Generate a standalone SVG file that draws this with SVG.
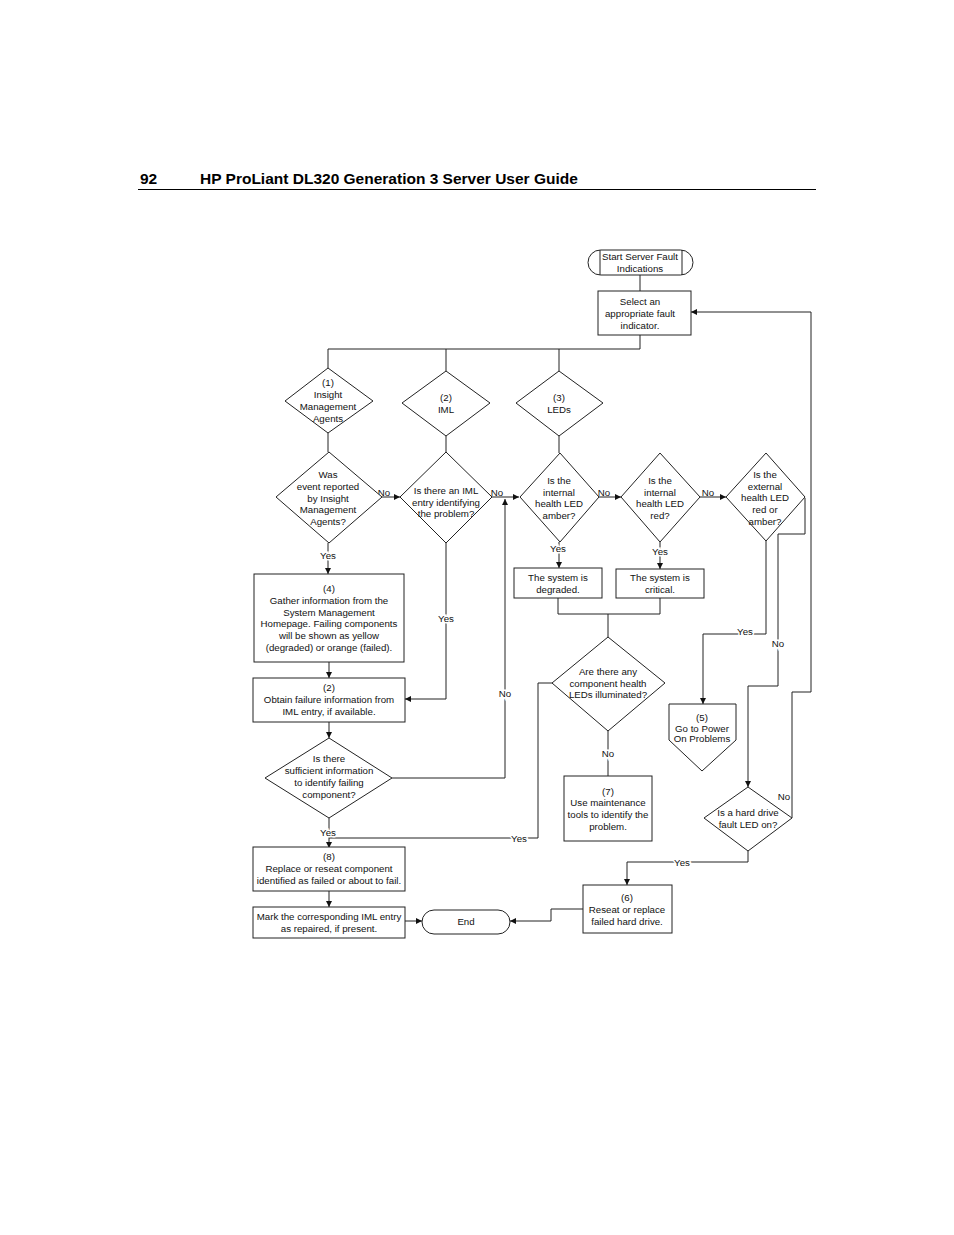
<svg xmlns="http://www.w3.org/2000/svg" width="954" height="1235" viewBox="0 0 954 1235">
<defs>
<marker id="ah" viewBox="0 0 10 10" refX="10" refY="5" markerWidth="7" markerHeight="6" markerUnits="userSpaceOnUse" orient="auto">
<path d="M0,0 L10,5 L0,10 z" fill="#111"/>
</marker>
<style>
.s{fill:#fff;stroke:#222;stroke-width:1}
.t{font-family:"Liberation Sans",Arial,sans-serif;font-size:9.7px;fill:#111;text-anchor:middle}
.l{font-family:"Liberation Sans",Arial,sans-serif;font-size:9.7px;fill:#111;text-anchor:middle;stroke:#fff;stroke-width:3;paint-order:stroke}
.c{fill:none;stroke:#222;stroke-width:1}
.a{fill:none;stroke:#222;stroke-width:1;marker-end:url(#ah)}
.h{font-family:"Liberation Sans",Arial,sans-serif;font-size:15.5px;font-weight:bold;fill:#000}
</style>
</defs>
<rect width="954" height="1235" fill="#fff"/>
<g id="header">
<text class="h" x="140" y="184">92</text>
<text class="h" x="200" y="184">HP ProLiant DL320 Generation 3 Server User Guide</text>
<line x1="138" y1="189.5" x2="816" y2="189.5" stroke="#000" stroke-width="1"/>
</g>
<g id="connectors">
<path class="c" d="M640,275 V291"/>
<path class="c" d="M640,335 V349 M328,349 H640 M328,349 V368 M446,349 V371 M559,349 V371"/>
<path class="c" d="M328,433 V452 M446,436 V452 M559,436 V453"/>
<path class="a" d="M382,497 H400"/>
<path class="a" d="M492,497 H519"/>
<path class="a" d="M599,497 H621"/>
<path class="a" d="M700,497 H726"/>
<path class="a" d="M328,543 V574"/>
<path class="a" d="M446,543 V699 H405"/>
<path class="a" d="M559,542 V568"/>
<path class="a" d="M660,542 V569"/>
<path class="c" d="M558,598 V614 M660,598 V614 M558,614 H660 M608,614 V637"/>
<path class="c" d="M552,683 H538 V838 H329"/>
<path class="c" d="M608,731 V776"/>
<path class="a" d="M392,778 H505 V499"/>
<path class="a" d="M329,662 V678"/>
<path class="a" d="M329,722 V738"/>
<path class="a" d="M329,818 V848"/>
<path class="a" d="M329,891 V907"/>
<path class="a" d="M405,921 H422"/>
<path class="a" d="M805,498 V534 H778 V686 H748 V787"/>
<path class="a" d="M766,541 V634 H703 V704"/>
<path class="a" d="M792,818 V692 H811 V312 H691"/>
<path class="a" d="M748,851 V862 H627 V885"/>
<path class="a" d="M583,909 H551 V921 H510"/>
</g>
<g id="labels">
<text class="t" x="384" y="495.5">No</text>
<text class="t" x="497" y="495.5">No</text>
<text class="t" x="604" y="495.5">No</text>
<text class="t" x="708" y="495.5">No</text>
<text class="l" x="328" y="558.5">Yes</text>
<text class="l" x="446" y="621.5">Yes</text>
<text class="l" x="558" y="551.5">Yes</text>
<text class="l" x="660" y="554.5">Yes</text>
<text class="l" x="745" y="634.5">Yes</text>
<text class="l" x="778" y="646.5">No</text>
<text class="l" x="505" y="696.5">No</text>
<text class="l" x="608" y="756.5">No</text>
<text class="l" x="328" y="835.5">Yes</text>
<text class="l" x="519" y="841.5">Yes</text>
<text class="t" x="784" y="799.5">No</text>
<text class="l" x="682" y="865.5">Yes</text>
</g>
<g id="start">
<rect class="s" x="588" y="250" width="105" height="25" rx="12.5"/>
<line class="c" x1="600" y1="250" x2="600" y2="275"/>
<line class="c" x1="682" y1="250" x2="682" y2="275"/>
<text class="t" x="640" y="259.5">Start Server Fault</text>
<text class="t" x="640" y="271.5">Indications</text>
</g>
<g id="select">
<rect class="s" x="598" y="291" width="93" height="44"/>
<text class="t" x="640" y="304.5">Select an</text>
<text class="t" x="640" y="316.5">appropriate fault</text>
<text class="t" x="640" y="328.5">indicator.</text>
</g>
<g id="d1">
<polygon class="s" points="328,368 373,401 328,433 285,401"/>
<text class="t" x="328" y="385.5">(1)</text>
<text class="t" x="328" y="397.5">Insight</text>
<text class="t" x="328" y="409.5">Management</text>
<text class="t" x="328" y="421.5">Agents</text>
</g>
<g id="d2">
<polygon class="s" points="446,371 490,403 446,436 402,403"/>
<text class="t" x="446" y="400.5">(2)</text>
<text class="t" x="446" y="412.5">IML</text>
</g>
<g id="d3">
<polygon class="s" points="559,371 603,403 559,436 516,403"/>
<text class="t" x="559" y="400.5">(3)</text>
<text class="t" x="559" y="412.5">LEDs</text>
</g>
<g id="was">
<polygon class="s" points="329,452 382,497 329,543 276,497"/>
<text class="t" x="328" y="477.5">Was</text>
<text class="t" x="328" y="489.5">event reported</text>
<text class="t" x="328" y="501.5">by Insight</text>
<text class="t" x="328" y="512.5">Management</text>
<text class="t" x="328" y="524.5">Agents?</text>
</g>
<g id="imlq">
<polygon class="s" points="446,452 492,497 446,543 400,497"/>
<text class="t" x="446" y="493.5">Is there an IML</text>
<text class="t" x="446" y="505.5">entry identifying</text>
<text class="t" x="446" y="516.5">the problem?</text>
</g>
<g id="amber">
<polygon class="s" points="560,453 599,497 560,542 520,497"/>
<text class="t" x="559" y="483.5">Is the</text>
<text class="t" x="559" y="495.5">internal</text>
<text class="t" x="559" y="506.5">health LED</text>
<text class="t" x="559" y="518.5">amber?</text>
</g>
<g id="red">
<polygon class="s" points="660,453 700,497 660,542 621,497"/>
<text class="t" x="660" y="483.5">Is the</text>
<text class="t" x="660" y="495.5">internal</text>
<text class="t" x="660" y="506.5">health LED</text>
<text class="t" x="660" y="518.5">red?</text>
</g>
<g id="external">
<polygon class="s" points="766,453 805,497 766,541 726,497"/>
<text class="t" x="765" y="477.5">Is the</text>
<text class="t" x="765" y="489.5">external</text>
<text class="t" x="765" y="500.5">health LED</text>
<text class="t" x="765" y="512.5">red or</text>
<text class="t" x="765" y="524.5">amber?</text>
</g>
<g id="degraded">
<rect class="s" x="514" y="568" width="88" height="30"/>
<text class="t" x="558" y="580.5">The system is</text>
<text class="t" x="558" y="592.5">degraded.</text>
</g>
<g id="critical">
<rect class="s" x="616" y="569" width="88" height="29"/>
<text class="t" x="660" y="580.5">The system is</text>
<text class="t" x="660" y="592.5">critical.</text>
</g>
<g id="arethere">
<polygon class="s" points="608,637 665,683 608,731 552,683"/>
<text class="t" x="608" y="674.5">Are there any</text>
<text class="t" x="608" y="686.5">component health</text>
<text class="t" x="608" y="697.5">LEDs illuminated?</text>
</g>
<g id="n5">
<polygon class="s" points="669,704 736,704 736,740 702,771 669,740"/>
<text class="t" x="702" y="720.5">(5)</text>
<text class="t" x="702" y="731.5">Go to Power</text>
<text class="t" x="702" y="741.5">On Problems</text>
</g>
<g id="n7">
<rect class="s" x="564" y="776" width="88" height="65"/>
<text class="t" x="608" y="794.5">(7)</text>
<text class="t" x="608" y="805.5">Use maintenance</text>
<text class="t" x="608" y="817.5">tools to identify the</text>
<text class="t" x="608" y="829.5">problem.</text>
</g>
<g id="harddrive">
<polygon class="s" points="748,787 792,818 748,851 704,818"/>
<text class="t" x="748" y="815.5">Is a hard drive</text>
<text class="t" x="748" y="827.5">fault LED on?</text>
</g>
<g id="n6">
<rect class="s" x="583" y="885" width="89" height="48"/>
<text class="t" x="627" y="900.5">(6)</text>
<text class="t" x="627" y="912.5">Reseat or replace</text>
<text class="t" x="627" y="924.5">failed hard drive.</text>
</g>
<g id="end">
<rect class="s" x="422" y="910" width="88" height="24" rx="12"/>
<text class="t" x="466" y="924.5">End</text>
</g>
<g id="n4">
<rect class="s" x="254" y="574" width="150" height="88"/>
<text class="t" x="329" y="591.5">(4)</text>
<text class="t" x="329" y="603.5">Gather information from the</text>
<text class="t" x="329" y="615.5">System Management</text>
<text class="t" x="329" y="626.5">Homepage. Failing components</text>
<text class="t" x="329" y="638.5">will be shown as yellow</text>
<text class="t" x="329" y="650.5">(degraded) or orange (failed).</text>
</g>
<g id="n2">
<rect class="s" x="253" y="678" width="152" height="44"/>
<text class="t" x="329" y="690.5">(2)</text>
<text class="t" x="329" y="702.5">Obtain failure information from</text>
<text class="t" x="329" y="714.5">IML entry, if available.</text>
</g>
<g id="sufficient">
<polygon class="s" points="329,738 392,778 329,818 265,778"/>
<text class="t" x="329" y="761.5">Is there</text>
<text class="t" x="329" y="773.5">sufficient information</text>
<text class="t" x="329" y="785.5">to identify failing</text>
<text class="t" x="329" y="797.5">component?</text>
</g>
<g id="n8">
<rect class="s" x="253" y="847" width="152" height="44"/>
<text class="t" x="329" y="859.5">(8)</text>
<text class="t" x="329" y="871.5">Replace or reseat component</text>
<text class="t" x="329" y="883.5">identified as failed or about to fail.</text>
</g>
<g id="mark">
<rect class="s" x="253" y="907" width="152" height="31"/>
<text class="t" x="329" y="919.5">Mark the corresponding IML entry</text>
<text class="t" x="329" y="931.5">as repaired, if present.</text>
</g>
</svg>
